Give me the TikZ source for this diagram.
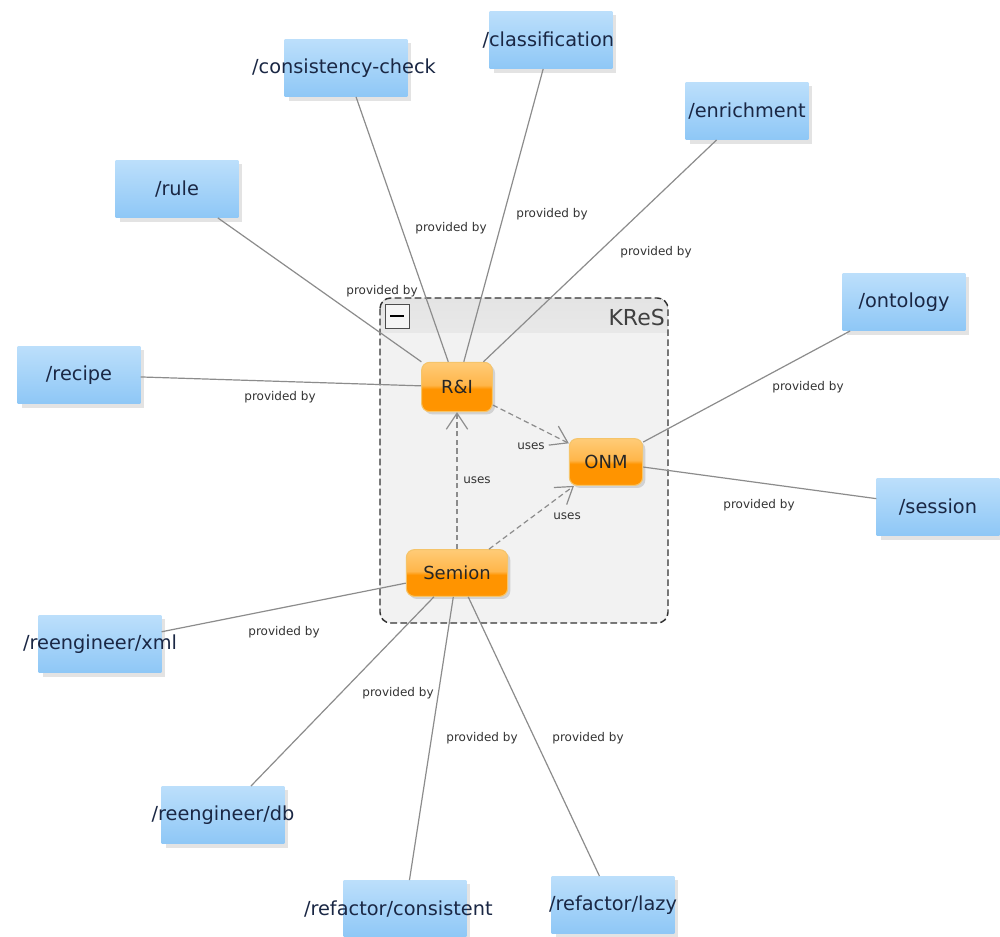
\documentclass[tikz,border=0pt]{standalone}
\usepackage{fontspec}
\setmainfont{DejaVu Sans}
\usetikzlibrary{arrows.meta,shadows}
\definecolor{bluetop}{HTML}{BCDFFB}
\definecolor{bluebot}{HTML}{8EC7F6}
\definecolor{bluetxt}{HTML}{1A2744}
\definecolor{orgtop}{HTML}{FFD48A}
\definecolor{orgmid}{HTML}{FFB64A}
\definecolor{orgbot}{HTML}{FF9400}
\definecolor{orgline}{HTML}{F5C46A}
\definecolor{edgegray}{HTML}{8C8C8C}
\definecolor{panel}{HTML}{F2F2F2}
\definecolor{panelhead}{HTML}{E4E4E4}
\pgfdeclareverticalshading{gloss}{100bp}{color(0bp)=(orgbot!85!orgtop); color(30bp)=(orgbot); color(48bp)=(orgbot); color(52bp)=(orgmid); color(75bp)=(orgtop!70!orgmid); color(100bp)=(orgtop)}
\newcommand\zw[2][0pt]{\makebox[0pt][c]{\kern#1 #2}}
\begin{document}
\begin{tikzpicture}[x=0.75pt,y=-0.75pt,
  endpoint/.style={inner sep=0pt, minimum width=92pt, minimum height=43pt,
    top color=bluetop, bottom color=bluebot, draw=none, text=bluetxt,
    font=\fontsize{14.5}{17}\selectfont,
    drop shadow={opacity=0.22,shadow xshift=3pt,shadow yshift=-3pt}},
  comp/.style={rounded corners=6pt, draw=orgline, line width=0.8pt,
    shading=gloss,
    inner sep=0pt, minimum height=35pt, text=black!85,
    font=\fontsize{13.5}{16}\selectfont,
    drop shadow={opacity=0.28, shadow xshift=2pt, shadow yshift=-2pt}},
  prov/.style={draw=edgegray, line width=0.9pt},
  uses/.style={draw=edgegray, line width=0.9pt, dash pattern=on 4pt off 2.5pt,
    -{Straight Barb[length=12pt,width=16pt]}},
  lbl/.style={font=\fontsize{9}{10}\selectfont, text=black!80, inner sep=1pt},
]
\useasboundingbox (0,0) rectangle (1000,937);
\fill[white] (0,0) rectangle (1000,937);

% KReS container
\fill[panel, rounded corners=8pt] (380,298) rectangle (668,623);
\begin{scope}
  \clip[rounded corners=8pt] (380,298) rectangle (668,623);
  \fill[top color=panelhead, bottom color=panelhead!70!panel] (380,298) rectangle (668,333);
\end{scope}
\draw[black!80, line width=1.1pt, dash pattern=on 5pt off 2.5pt, rounded corners=8pt]
  (380,298) rectangle (668,623);
\node[draw=black!70, fill=white!92!gray, minimum size=18pt, inner sep=0pt] (collapse) at (397,316) {};
\draw[line width=2pt, black] ([xshift=4pt]collapse.west) -- ([xshift=-4pt]collapse.east);
\node[anchor=east, font=\fontsize{16.5}{18}\selectfont, text=black!75, inner sep=0pt] (kreslabel) at (665,317) {KReS};

% components
\node[comp, minimum width=53pt, minimum height=37pt] (ri) at (457,387) {R\&I};
\node[comp, minimum width=55pt] (onm) at (606,462) {ONM};
\node[comp, minimum width=76pt] (semion) at (457,573) {Semion};

% endpoints
\node[endpoint] (class)   at (551,40)  {\zw[-4pt]{/classification}};
\node[endpoint] (consist) at (346,68)  {\zw[-3pt]{/consistency-check}};
\node[endpoint] (enrich)  at (747,111) {\zw{/enrichment}};
\node[endpoint] (rule)    at (177,189) {\zw{/rule}};
\node[endpoint] (recipe)  at (79,375)  {\zw{/recipe}};
\node[endpoint] (onto)    at (904,302) {\zw{/ontology}};
\node[endpoint] (session) at (938,507) {\zw{/session}};
\node[endpoint] (xml)     at (100,644) {\zw{/reengineer/xml}};
\node[endpoint] (db)      at (223,815) {\zw{/reengineer/db}};
\node[endpoint] (refcons) at (405,909) {\zw[-10pt]{/refactor/consistent}};
\node[endpoint] (lazy)    at (613,905) {\zw{/refactor/lazy}};

% provided-by connectors
\draw[prov] (consist) -- (ri);
\draw[prov] (class) -- (ri);
\draw[prov] (enrich) -- (ri);
\draw[prov] (rule) -- (ri);
\draw[prov] (recipe) -- (ri);
\draw[prov] (onto) -- (onm);
\draw[prov] (session) -- (onm);
\draw[prov] (xml) -- (semion);
\draw[prov] (db) -- (semion);
\draw[prov] (refcons) -- (semion);
\draw[prov] (lazy) -- (semion);

\node[lbl] (l1)  at (451,228) {provided by};
\node[lbl] (l2)  at (552,214) {provided by};
\node[lbl] (l3)  at (656,252) {provided by};
\node[lbl] (l4)  at (382,291) {provided by};
\node[lbl] (l5)  at (280,397) {provided by};
\node[lbl] (l6)  at (808,387) {provided by};
\node[lbl] (l7)  at (759,505) {provided by};
\node[lbl] (l8)  at (284,632) {provided by};
\node[lbl] (l9)  at (398,693) {provided by};
\node[lbl] (l10) at (482,738) {provided by};
\node[lbl] (l11) at (588,738) {provided by};

% uses connectors
\draw[uses] (ri) -- (onm);
\draw[uses] (semion) -- (ri);
\draw[uses] (semion) -- (onm);
\node[lbl] (u1) at (531,446) {uses};
\node[lbl] (u2) at (477,480) {uses};
\node[lbl] (u3) at (567,516) {uses};
\end{tikzpicture}
\end{document}
